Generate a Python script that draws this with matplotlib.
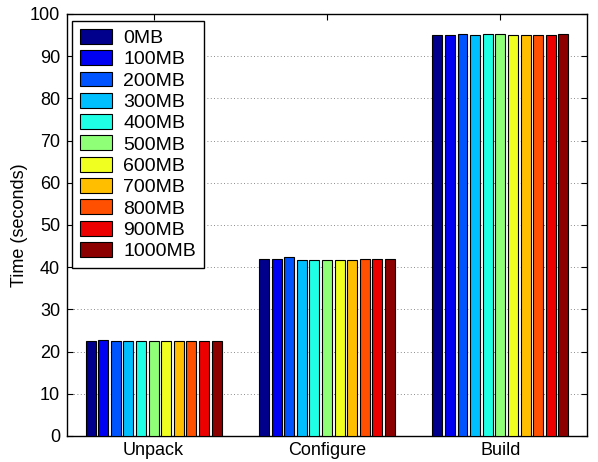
import matplotlib
matplotlib.use("Agg")
import matplotlib.pyplot as plt
import numpy as np

plt.rcParams['font.family'] = ['Liberation Sans', 'DejaVu Sans']

categories = ["Unpack", "Configure", "Build"]
series_labels = ["0MB", "100MB", "200MB", "300MB", "400MB", "500MB",
                 "600MB", "700MB", "800MB", "900MB", "1000MB"]
unpack = [22.4, 22.7, 22.4, 22.6, 22.5, 22.5, 22.5, 22.4, 22.5, 22.5, 22.5]
configure = [41.9, 41.9, 42.3, 41.8, 41.8, 41.7, 41.7, 41.8, 42.0, 41.9, 42.0]
build = [95.1, 95.1, 95.3, 95.1, 95.2, 95.2, 95.1, 95.1, 95.1, 95.1, 95.3]
yticks = list(range(0, 101, 10))

colors = [(0.0, 0.0, 0.55), (0.0, 0.0, 0.95), (0.0, 0.33, 1.0), (0.0, 0.75, 1.0),
          (0.12, 1.0, 0.9), (0.56, 1.0, 0.47), (0.94, 1.0, 0.12), (1.0, 0.75, 0.0),
          (1.0, 0.31, 0.0), (0.93, 0.0, 0.0), (0.55, 0.0, 0.0)]

data = np.array([unpack, configure, build])  # shape (3, 11)

fs = 13
fig = plt.figure(figsize=(5.98, 4.62), dpi=100)
ax = fig.add_axes([0.112, 0.0563, 0.8696, 0.9134])

n = len(series_labels)
slot = 0.8 / n
width = slot * 0.79
x = np.arange(1, len(categories) + 1)
for j in range(n):
    ax.bar(x + (j - (n - 1) / 2) * slot, data[:, j], width=width,
           color=colors[j], edgecolor='black', linewidth=0.8,
           label=series_labels[j], zorder=3)

ax.set_xlim(0.5, 3.5)
ax.set_ylim(0, 100)
ax.set_yticks(yticks)
ax.set_xticks(x)
ax.set_xticklabels(categories)
ax.set_ylabel("Time (seconds)", fontsize=fs, labelpad=1)
ax.yaxis.grid(True, linestyle=(0, (1, 3)), color='#666666', linewidth=0.6, zorder=0)
ax.tick_params(direction='in', top=True, right=True, labelsize=fs, length=4, width=0.8)
ax.tick_params(axis='x', pad=4)
ax.tick_params(axis='y', pad=5)
for s in ax.spines.values():
    s.set_linewidth(1.0)

leg = ax.legend(loc='upper left', bbox_to_anchor=(0.0096, 0.984), borderaxespad=0,
                fancybox=False, framealpha=1, edgecolor='black', fontsize=14,
                handlelength=1.65, handleheight=0.8, handletextpad=0.57,
                labelspacing=0.16, borderpad=0.42)
leg.get_frame().set_linewidth(1.0)
leg.set_zorder(5)

fig.savefig("out.png", dpi=100)
